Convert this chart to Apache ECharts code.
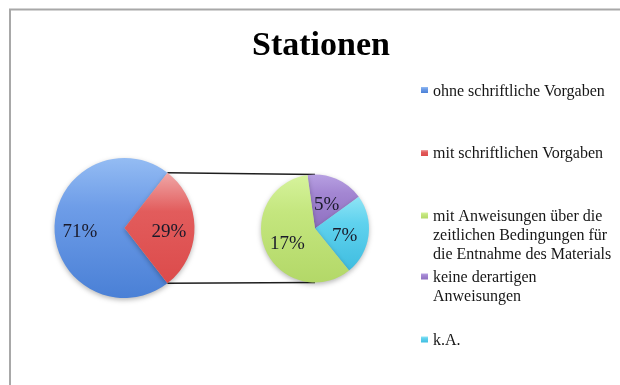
<!DOCTYPE html>
<html><head><meta charset="utf-8">
<script src="https://cdn.jsdelivr.net/npm/echarts@6/dist/echarts.min.js"></script>
<style>html,body{margin:0;padding:0;background:#fff}#c{width:620px;height:385px}</style>
</head><body><div id="c"></div>
<script>
const titleText = 'Stationen';
const mainCategories = ['ohne schriftliche Vorgaben', 'mit schriftlichen Vorgaben'];
const mainValues = [71, 29];
const subCategories = ['keine derartigen Anweisungen', 'k.A.', 'mit Anweisungen über die zeitlichen Bedingungen für die Entnahme des Materials'];
const subValues = [5, 7, 17];
const legendOrder = ['ohne schriftliche Vorgaben', 'mit schriftlichen Vorgaben', 'mit Anweisungen über die zeitlichen Bedingungen für die Entnahme des Materials', 'keine derartigen Anweisungen', 'k.A.'];
const legendLabels = ['ohne schriftliche Vorgaben', 'mit schriftlichen Vorgaben', 'mit Anweisungen über die\nzeitlichen Bedingungen für\ndie Entnahme des Materials', 'keine derartigen\nAnweisungen', 'k.A.'];

function grad(c0, c1, c2) {
  return {type: 'linear', x: 0, y: 0, x2: 0, y2: 1, colorStops: [
    {offset: 0, color: c0}, {offset: 0.35, color: c1}, {offset: 1, color: c2}]};
}
const colorMap = {
  'ohne schriftliche Vorgaben': grad('#94bcf3', '#6e9de8', '#4a80d6'),
  'mit schriftlichen Vorgaben': grad('#f0a8a8', '#e25c5c', '#dc4b4b'),
  'mit Anweisungen über die zeitlichen Bedingungen für die Entnahme des Materials': grad('#d6f39c', '#c4e67e', '#b3d868'),
  'keine derartigen Anweisungen': grad('#b7a0e2', '#a386d2', '#8e70c0'),
  'k.A.': grad('#8fe4f5', '#60d2ee', '#3fbde0')
};

const FONT = 'Liberation Serif';
const c1 = [124.5, 228], r1 = 70;
const c2 = [315, 228.5], r2 = 54;
const mainTotal = mainValues.reduce((a, b) => a + b, 0);
const half = mainValues[1] / mainTotal * 180;
const rad = half * Math.PI / 180;
const p1 = [c1[0] + r1 * Math.cos(rad), c1[1] - r1 * Math.sin(rad)];
const p2 = [c1[0] + r1 * Math.cos(rad), c1[1] + r1 * Math.sin(rad)];

const shadow = {shadowBlur: 5, shadowOffsetY: 2, shadowColor: 'rgba(0,0,0,0.28)'};
const mainData = mainCategories.map((n, i) => ({name: n, value: mainValues[i], itemStyle: Object.assign({color: colorMap[n]}, shadow)}));
const subData = subCategories.map((n, i) => ({name: n, value: subValues[i], itemStyle: Object.assign({color: colorMap[n]}, shadow)}));

const labelStyle = {show: true, position: 'inside', formatter: '{c}%', fontFamily: FONT, fontSize: 19, color: '#1a1a2a', offset: [0, 4]};

const lh = 19;
const iconCenters = [90, 153, 215.5, 276.5, 339.5];
const textOffsets = [1.5, 1, 1, 1, 1];
const legends = legendOrder.map((name, i) => {
  const n = legendLabels[i].split('\n').length;
  const boxH = (2 * n - 1) * lh;
  return {
    data: [name], left: 421, top: iconCenters[i] - boxH / 2, padding: 0,
    orient: 'vertical', icon: 'rect', itemWidth: 7, itemHeight: 6, itemGap: 0,
    selectedMode: false,
    formatter: () => '{t|' + '\n'.repeat(n - 1) + legendLabels[i].split('\n').join('}\n{t|') + '}',
    textStyle: {fontFamily: FONT, fontSize: 16, color: '#161616', lineHeight: lh,
      rich: {t: {fontFamily: FONT, fontSize: 16, color: '#161616', lineHeight: lh, padding: [textOffsets[i] * 2, 0, 0, 0]}}}
  };
});

const chart = echarts.init(document.getElementById('c'), null, {renderer: 'canvas'});
chart.setOption({
  animation: false,
  textStyle: {fontFamily: FONT},
  title: {text: titleText, left: 252, top: 28, padding: 0,
    textStyle: {fontFamily: FONT, fontWeight: 'bold', fontSize: 34, lineHeight: 36, color: '#000'}},
  legend: legends,
  graphic: [
    {type: 'rect', shape: {x: 10, y: 9.5, width: 700, height: 500}, style: {fill: 'none', stroke: '#a8a8a8', lineWidth: 2}, silent: true},
    {type: 'line', shape: {x1: p1[0], y1: p1[1], x2: c2[0], y2: c2[1] - r2}, style: {stroke: '#1e1e1e', lineWidth: 1.5}, silent: true},
    {type: 'line', shape: {x1: p2[0], y1: p2[1], x2: c2[0], y2: c2[1] + r2}, style: {stroke: '#1e1e1e', lineWidth: 1.5}, silent: true}
  ],
  series: [
    {type: 'pie', center: c1, radius: [0, r1], startAngle: 360 - half, clockwise: true,
      data: mainData, label: {show: false}, labelLine: {show: false}, emphasis: {disabled: true}, silent: true},
    {type: 'pie', center: c2, radius: [0, r2], startAngle: 98, clockwise: true,
      data: subData, label: labelStyle, labelLine: {show: false}, emphasis: {disabled: true}, silent: true},
    {type: 'pie', center: c1, radius: [0, 83], startAngle: 360 - half, clockwise: true, z: 5,
      data: mainCategories.map((n, i) => ({name: n, value: mainValues[i]})),
      itemStyle: {color: 'rgba(0,0,0,0)'}, label: labelStyle, labelLine: {show: false},
      emphasis: {disabled: true}, silent: true, legendHoverLink: false}
  ]
});
</script></body></html>
